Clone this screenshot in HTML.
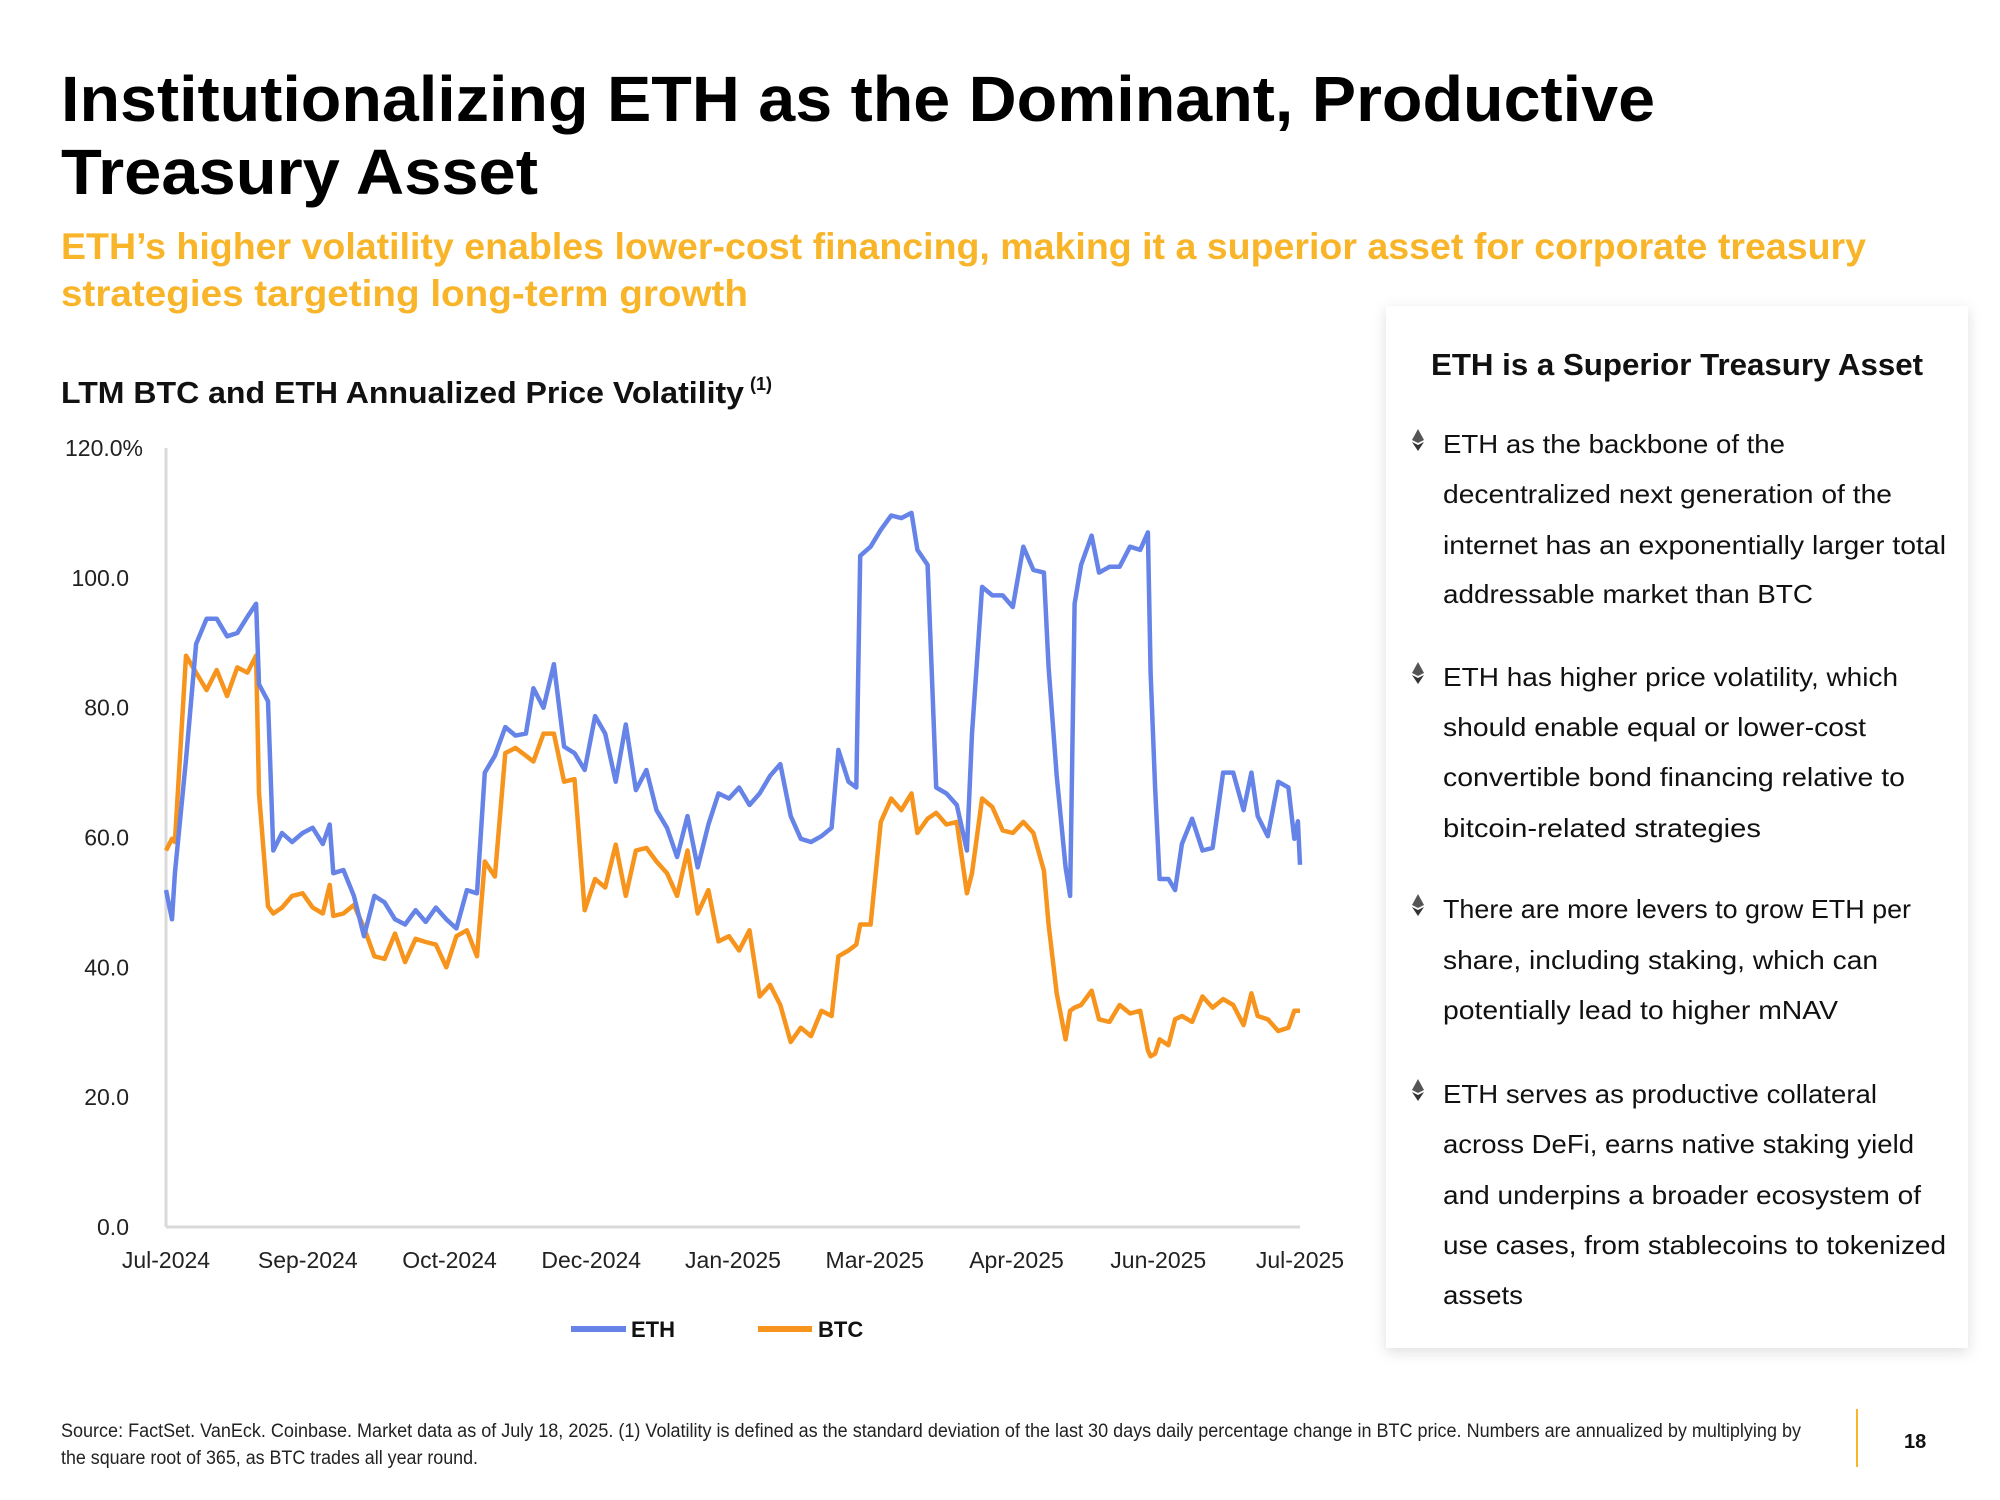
<!DOCTYPE html>
<html><head><meta charset="utf-8"><style>
html,body{margin:0;padding:0;background:#fff;}
svg{display:block;}
text{font-family:"Liberation Sans",sans-serif;}
</style></head><body>
<svg id="page" width="2000" height="1500" viewBox="0 0 2000 1500" xmlns="http://www.w3.org/2000/svg">
<defs>
<filter id="sh" x="-10%" y="-10%" width="120%" height="120%"><feDropShadow dx="0" dy="4" stdDeviation="7" flood-color="#000" flood-opacity="0.13"/></filter>
</defs>
<g font-weight="bold" fill="#000" font-size="64">
<text x="61" y="121" textLength="1594" lengthAdjust="spacingAndGlyphs">Institutionalizing ETH as the Dominant, Productive</text>
<text x="61" y="194" textLength="477" lengthAdjust="spacingAndGlyphs">Treasury Asset</text>
</g>
<g font-weight="bold" fill="#F9B52A" font-size="37">
<text x="61" y="259" textLength="1805" lengthAdjust="spacingAndGlyphs">ETH’s higher volatility enables lower-cost financing, making it a superior asset for corporate treasury</text>
<text x="61" y="306" textLength="687" lengthAdjust="spacingAndGlyphs">strategies targeting long-term growth</text>
</g>
<text x="61" y="403" font-size="31" font-weight="bold" fill="#111" textLength="683" lengthAdjust="spacingAndGlyphs">LTM BTC and ETH Annualized Price Volatility</text>
<text x="750" y="390" font-size="18" font-weight="bold" fill="#111">(1)</text>
<g id="chart"></g>

<g>
<g><line x1="571" y1="1329" x2="626" y2="1329" stroke="#6683E8" stroke-width="6"/><text x="631" y="1337" font-size="22" font-weight="bold" fill="#111">ETH</text></g>
<g><line x1="758" y1="1329" x2="812" y2="1329" stroke="#F7941D" stroke-width="6"/><text x="818" y="1337" font-size="22" font-weight="bold" fill="#111">BTC</text></g>
</g>

<g>
<rect x="1386" y="306" width="582" height="1042" fill="#fff" filter="url(#sh)"/>
<text x="1431" y="375" font-size="31" font-weight="bold" fill="#111" textLength="492" lengthAdjust="spacingAndGlyphs">ETH is a Superior Treasury Asset</text>
<g font-size="26" fill="#111">
<g>
<text x="1443" y="453" textLength="342" lengthAdjust="spacingAndGlyphs">ETH as the backbone of the</text>
<text x="1443" y="503" textLength="449" lengthAdjust="spacingAndGlyphs">decentralized next generation of the</text>
<text x="1443" y="554" textLength="503" lengthAdjust="spacingAndGlyphs">internet has an exponentially larger total</text>
<text x="1443" y="603" textLength="370" lengthAdjust="spacingAndGlyphs">addressable market than BTC</text>
</g>
<g>
<text x="1443" y="686" textLength="455" lengthAdjust="spacingAndGlyphs">ETH has higher price volatility, which</text>
<text x="1443" y="736" textLength="423" lengthAdjust="spacingAndGlyphs">should enable equal or lower-cost</text>
<text x="1443" y="786" textLength="462" lengthAdjust="spacingAndGlyphs">convertible bond financing relative to</text>
<text x="1443" y="837" textLength="318" lengthAdjust="spacingAndGlyphs">bitcoin-related strategies</text>
</g>
<g>
<text x="1443" y="918" textLength="468" lengthAdjust="spacingAndGlyphs">There are more levers to grow ETH per</text>
<text x="1443" y="969" textLength="435" lengthAdjust="spacingAndGlyphs">share, including staking, which can</text>
<text x="1443" y="1019" textLength="395" lengthAdjust="spacingAndGlyphs">potentially lead to higher mNAV</text>
</g>
<g>
<text x="1443" y="1103" textLength="434" lengthAdjust="spacingAndGlyphs">ETH serves as productive collateral</text>
<text x="1443" y="1153" textLength="471" lengthAdjust="spacingAndGlyphs">across DeFi, earns native staking yield</text>
<text x="1443" y="1204" textLength="478" lengthAdjust="spacingAndGlyphs">and underpins a broader ecosystem of</text>
<text x="1443" y="1254" textLength="503" lengthAdjust="spacingAndGlyphs">use cases, from stablecoins to tokenized</text>
<text x="1443" y="1304" textLength="80" lengthAdjust="spacingAndGlyphs">assets</text>
</g>
</g>
<g id="icons"></g>
</g>

<g font-size="19" fill="#222">
<text x="61" y="1437" textLength="1740" lengthAdjust="spacingAndGlyphs">Source: FactSet. VanEck. Coinbase. Market data as of July 18, 2025. (1) Volatility is defined as the standard deviation of the last 30 days daily percentage change in BTC price. Numbers are annualized by multiplying by</text>
<text x="61" y="1464" textLength="417" lengthAdjust="spacingAndGlyphs">the square root of 365, as BTC trades all year round.</text>
</g>
<line x1="1857" y1="1409" x2="1857" y2="1467" stroke="#F9B52A" stroke-width="2"/>
<text x="1904" y="1448" font-size="20" font-weight="bold" fill="#111">18</text>
</svg>
<script>
const days = [0,2,3,6.7,10.1,13.6,17,20.5,23.9,27.3,30.2,31.2,34.2,36,38.9,42.3,45.8,49.2,52.6,54.9,56.1,59.5,63,66.4,69.9,73.3,76.8,80.2,83.7,87.1,90.5,94,97.4,100.9,104.3,106.9,110.3,113.8,117.2,120.7,123.2,126.6,130.1,133.5,137,140.4,143.9,147.3,150.8,154.2,157.6,161.1,164.5,168,171.4,174.9,178.3,181.9,185.3,188.8,192.2,195.7,199.1,202.6,206,209.5,212.9,216.3,219.8,223.2,225.5,228.9,231.5,232.8,236.3,239.7,243.2,246.6,250,252,255.4,258.3,261.7,265.2,268.6,270.3,273.7,277.1,280.6,284,287.5,290.9,294.4,296,298.7,301.7,303.2,304.7,306.9,310.4,312.9,316.4,319.8,323.3,326.7,329.3,330.2,331.7,333.2,336.2,338.4,340.7,344.1,347.6,351,354.5,357.9,361.4,364,366.1,369.5,373,376.4,378.4,379.6,380.3];
const ethValues = [51.9,47.4,54.5,72,89.8,93.7,93.7,91,91.5,94,96,83.6,81,58,60.7,59.3,60.7,61.5,59,62,54.5,55,51,44.8,51,50,47.4,46.6,48.8,47,49.2,47.4,46,51.9,51.4,70,72.6,77,75.7,76,83,80,86.7,74,73,70.4,78.7,76,68.6,77.4,67.3,70.4,64.2,61.5,57,63.3,55.4,
62,66.8,66,67.7,65,66.8,69.5,71.3,63.3,59.8,59.3,60.2,61.5,73.5,68.6,67.7,103.4,104.8,107.4,109.6,109.2,110,104.3,102,67.7,66.8,65,58,76,98.6,97.3,97.3,95.5,104.8,101.2,100.8,86.2,69.5,55.4,51,96,102,106.5,100.8,101.7,101.7,104.8,104.3,107,85.4,67.7,53.6,53.6,51.9,59,62.9,58,58.4,70,70,64.2,70,63.3,60.2,68.6,67.7,59.8,62.5,55.8];
const btcValues = [58,59.8,59.3,88,85.4,82.7,85.8,81.8,86.2,85.4,88,66.8,49.4,48.3,49.2,51,51.4,49.2,48.3,52.7,47.9,48.3,49.6,46.1,41.7,41.3,45.2,40.8,44.4,43.9,43.5,40,44.8,45.7,41.7,56.3,54,73,73.8,72.6,71.7,76,76,68.6,69,48.8,53.6,52.3,58.9,51,58,58.4,56.3,54.5,51,58,48.3,
51.9,44,44.8,42.6,45.7,35.5,37.3,34.2,28.5,30.7,29.4,33.3,32.5,41.7,42.6,43.5,46.6,46.6,62.4,66,64.2,66.8,60.7,62.9,63.8,62,62.4,51.4,54.5,66,64.7,61.1,60.7,62.4,60.7,54.9,46.6,36,28.9,33.3,33.8,34.2,36.4,32,31.6,34.2,32.9,33.3,27.2,26.3,26.7,28.9,28,32,32.5,31.6,35.5,33.8,35.1,34.2,31.1,36,32.5,32,30.2,30.7,33.3,33.3,33.3];
const yTicks = [0,20,40,60,80,100,120];
const yTickLabels = ["0.0","20.0","40.0","60.0","80.0","100.0","120.0%"];
const xTickLabels = ["Jul-2024","Sep-2024","Oct-2024","Dec-2024","Jan-2025","Mar-2025","Apr-2025","Jun-2025","Jul-2025"];
const dayMax = 380.3;

const NS = "http://www.w3.org/2000/svg";
const X0 = 166, X1 = 1300, Y0 = 1227, Y1 = 448;
const xS = d => X0 + d / dayMax * (X1 - X0);
const yS = v => Y0 - v / 120 * (Y0 - Y1);
const chart = document.getElementById('chart');
function mk(tag, attrs, parent) { const e = document.createElementNS(NS, tag); for (const k in attrs) e.setAttribute(k, attrs[k]); parent.appendChild(e); return e; }

yTicks.forEach((t, i) => {
  const lab = mk('text', {x: i === yTicks.length - 1 ? 143 : 129, y: yS(t) + 8, 'text-anchor': 'end', 'font-size': 23, fill: '#222'}, chart);
  lab.textContent = yTickLabels[i];
  
  
});
xTickLabels.forEach((l, i) => {
  const lab = mk('text', {x: X0 + i * (X1 - X0) / (xTickLabels.length - 1), y: 1268, 'text-anchor': 'middle', 'font-size': 23, fill: '#222'}, chart);
  lab.textContent = l;
  
  
});
const yAx = mk('line', {x1: X0, y1: Y1, x2: X0, y2: Y0, stroke: '#d9d9d9', 'stroke-width': 3}, chart);


const xAx = mk('line', {x1: X0, y1: Y0, x2: X1, y2: Y0, stroke: '#d9d9d9', 'stroke-width': 3}, chart);



function series(vals, color, name) {
  const pts = vals.map((v, i) => xS(days[i]).toFixed(1) + ',' + yS(v).toFixed(1)).join(' ');
  const p = mk('polyline', {points: pts, fill: 'none', stroke: color, 'stroke-width': 4.5, 'stroke-linejoin': 'round'}, chart);
  
  
}
series(btcValues, '#F7941D', 'btc-line');
series(ethValues, '#6683E8', 'eth-line');

const icons = document.getElementById('icons');
[453, 686, 918, 1103].forEach(b => {
  const g = mk('g', {}, icons);
  
  
  mk('polygon', {points: `1418,${b-24} 1424,${b-13} 1418,${b-10} 1412,${b-13}`, fill: '#555'}, g);
  mk('polygon', {points: `1412,${b-11} 1418,${b-8} 1424,${b-11} 1418,${b-2}`, fill: '#333'}, g);
});
</script>
</body></html>
